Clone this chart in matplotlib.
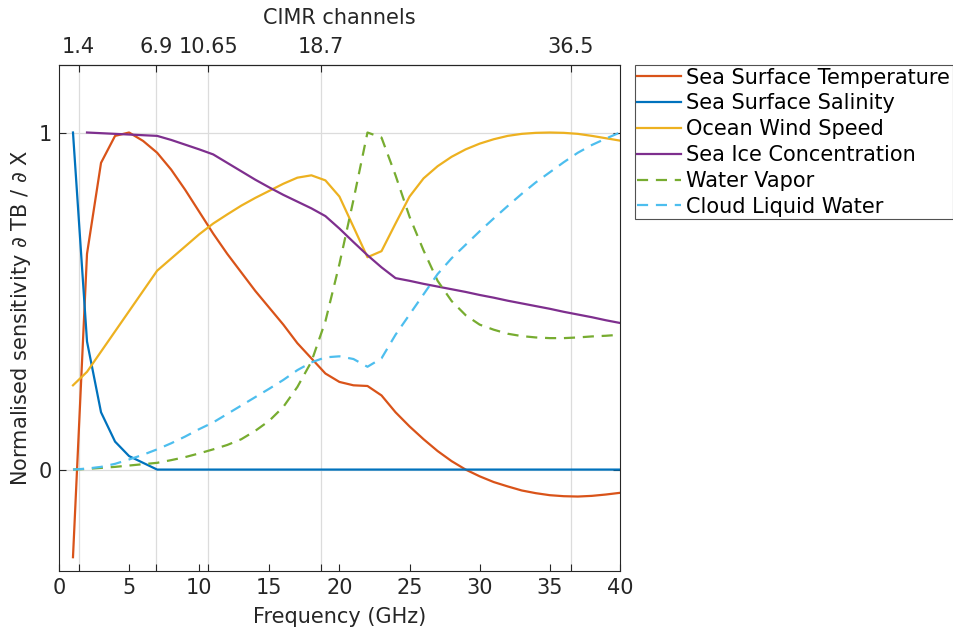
import matplotlib.pyplot as plt
import numpy as np

# frequency grid (GHz) and normalised sensitivities
freq = np.arange(1, 41)

sst = [-0.26, 0.64, 0.91, 0.99, 1.0, 0.975, 0.94, 0.89, 0.83, 0.765,
       0.70, 0.64, 0.585, 0.53, 0.48, 0.43, 0.375, 0.33, 0.285, 0.26,
       0.25, 0.248, 0.22, 0.17, 0.128, 0.09, 0.055, 0.025, 0.0, -0.02,
       -0.037, -0.05, -0.062, -0.07, -0.076, -0.079, -0.08, -0.078, -0.074, -0.069]
sss = [1.0, 0.38, 0.17, 0.083, 0.04, 0.02, 0.0] + [0.0] * 33
ows = [0.25, 0.29, 0.35, 0.41, 0.47, 0.53, 0.59, 0.626, 0.662, 0.698,
       0.73, 0.757, 0.783, 0.806, 0.827, 0.848, 0.866, 0.873, 0.858, 0.81,
       0.72, 0.63, 0.648, 0.73, 0.81, 0.864, 0.90, 0.928, 0.95, 0.967,
       0.98, 0.99, 0.996, 0.999, 1.0, 0.999, 0.996, 0.99, 0.983, 0.976]
# sea ice starts at 2 GHz
sic_freq = np.arange(2, 41)
sic = [1.0, 0.998, 0.996, 0.994, 0.992, 0.99, 0.978, 0.964, 0.95,
       0.935, 0.91, 0.885, 0.86, 0.837, 0.815, 0.795, 0.775, 0.752, 0.715,
       0.675, 0.636, 0.60, 0.568, 0.56, 0.551, 0.543, 0.535, 0.527, 0.518,
       0.51, 0.501, 0.493, 0.485, 0.477, 0.468, 0.46, 0.452, 0.443, 0.435]
wv = [0.0, 0.002, 0.005, 0.008, 0.012, 0.016, 0.02, 0.028, 0.037, 0.048,
      0.06, 0.073, 0.09, 0.115, 0.145, 0.186, 0.245, 0.32, 0.44, 0.61,
      0.80, 1.0, 0.985, 0.873, 0.75, 0.65, 0.56, 0.5, 0.458, 0.43,
      0.415, 0.403, 0.396, 0.392, 0.39, 0.39, 0.392, 0.395, 0.397, 0.40]
clw = [0.0, 0.003, 0.008, 0.017, 0.03, 0.044, 0.06, 0.078, 0.098, 0.12,
       0.14, 0.165, 0.19, 0.215, 0.24, 0.266, 0.295, 0.318, 0.333, 0.336,
       0.328, 0.305, 0.33, 0.40, 0.46, 0.52, 0.58, 0.627, 0.667, 0.707,
       0.745, 0.782, 0.818, 0.852, 0.882, 0.912, 0.94, 0.963, 0.982, 1.0]

channels = [1.4, 6.9, 10.65, 18.7, 36.5]
channel_labels = ['1.4', '6.9', '10.65', '18.7', '36.5']

plt.rcParams['font.family'] = ['DejaVu Sans']
fs = 15

fig = plt.figure(figsize=(9.54, 6.32), dpi=100)
ax = fig.add_axes([0.0618, 0.097, 0.588, 0.800])

ax.plot(freq, sst, color='#D95319', lw=1.6, label='Sea Surface Temperature')
ax.plot(freq, sss, color='#0072BD', lw=1.6, label='Sea Surface Salinity')
ax.plot(freq, ows, color='#EDB120', lw=1.6, label='Ocean Wind Speed')
ax.plot(sic_freq, sic, color='#7E2F8E', lw=1.6, label='Sea Ice Concentration')
ax.plot(freq, wv, color='#77AC30', lw=1.6, ls=(0, (5, 3.5)), label='Water Vapor')
ax.plot(freq, clw, color='#4DBEEE', lw=1.6, ls=(0, (5, 3.5)), label='Cloud Liquid Water')

ax.set_xlim(0, 40)
ax.set_ylim(-0.3, 1.2)
ax.set_xticks(np.arange(0, 41, 5))
ax.set_xticks(channels, minor=True)
ax.set_yticks([0, 1])
ax.tick_params(which='both', direction='in', length=5, width=0.8, colors='#262626',
               labelsize=fs, right=True, pad=5)
ax.tick_params(which='minor', length=5)
ax.set_xlabel('Frequency (GHz)', fontsize=fs, color='#262626', labelpad=7)
ax.set_ylabel(r'Normalised sensitivity $\partial$ TB / $\partial$ X', fontsize=fs,
              color='#262626', labelpad=4)

# grid at channel frequencies and at 0 / 1
for c in channels:
    ax.axvline(c, color='#dcdcdc', lw=0.9, zorder=0)
for v in [0, 1]:
    ax.axhline(v, color='#dcdcdc', lw=0.9, zorder=0)

for s in ax.spines.values():
    s.set_color('#262626')
    s.set_linewidth(0.8)

top = ax.secondary_xaxis('top')
top.set_xticks(channels)
top.set_xticklabels(channel_labels)
top.tick_params(direction='in', length=5, width=0.8, colors='#262626', labelsize=fs, pad=6)
top.set_xlabel('CIMR channels', fontsize=fs, color='#262626', labelpad=9)

leg = fig.legend(loc='upper left', bbox_to_anchor=(0.6656, 0.897), fontsize=fs,
                 frameon=True, fancybox=False, edgecolor='#262626',
                 handlelength=2.1, handletextpad=0.25, borderpad=0.12,
                 labelspacing=0.28, borderaxespad=0)
leg.get_frame().set_linewidth(0.8)

fig.savefig('out.png', dpi=100)
